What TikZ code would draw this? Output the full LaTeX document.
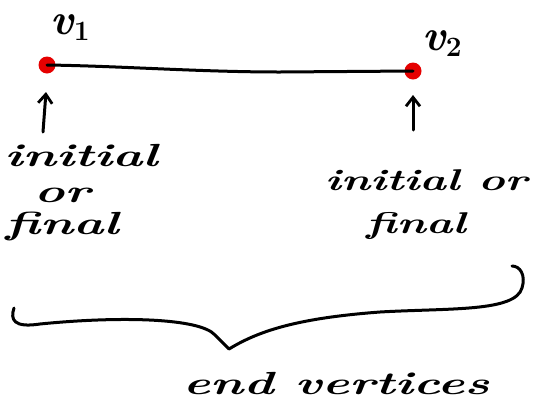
\documentclass[tikz,border=0pt]{standalone}
\usepackage{fontspec}
\usetikzlibrary{arrows.meta}
\newcommand\wide[1]{\scalebox{1.6}[1]{#1}}
\newcommand\widish[1]{\scalebox{1.5}[1]{#1}}
\tikzset{
  ink/.style={line width=3pt, line cap=round, line join=round},
  vertexdot/.style={circle, fill=red!90!black, minimum size=17pt, inner sep=0pt},
  hand/.style={font=\fontsize{32}{36}\selectfont\bfseries\itshape, inner sep=0pt, align=center},
  smallhand/.style={font=\fontsize{30}{34}\selectfont\bfseries\itshape, inner sep=0pt, align=center},
  vlabel/.style={font=\fontsize{44}{48}\selectfont\bfseries\itshape, inner sep=0pt},
  pointer/.style={ink, -{Straight Barb[length=9pt,width=14pt,line width=2.8pt]}}
}
\newcommand\vsub[1]{\raisebox{-6pt}{\fontsize{28}{30}\selectfont\upshape #1}}
\begin{document}
\begin{tikzpicture}[x=1pt,y=-1pt]
  \useasboundingbox (0,0) rectangle (549,405);
  % the edge and its two vertices
  \node[vertexdot] (v1) at (47,65) {};
  \node[vertexdot] (v2) at (413,71) {};
  \draw[ink] (v1.center) .. controls (120,66) and (200,72) .. (280,72) -- (v2.center);
  \node[vlabel] (l1) at (70,28) {v\vsub{1}};
  \node[vlabel] (l2) at (442,44) {v\vsub{2}};
  % pointers to the vertices
  \coordinate (a1) at (43,132);
  \coordinate (h1) at (46,92);
  \coordinate (a2) at (413,130);
  \coordinate (h2) at (413,95);
  \draw[pointer] (a1) -- (h1);
  \draw[pointer] (a2) -- (h2);
  % labels below the pointers
  \node[hand] (t1) at (81,156) {\wide{initial}};
  \node[hand] (t2) at (62,195) {\wide{or}};
  \node[hand] (t3) at (62,226) {\wide{final}};
  \node[smallhand] (t4) at (426,180) {\widish{initial or}};
  \node[smallhand] (t5) at (416,226) {\widish{final}};
  % the brace gathering both ends
  \coordinate (bl) at (14,308);
  \coordinate (tip) at (229,349);
  \coordinate (br) at (512,266);
  \draw[ink] (bl) .. controls (10,320) and (14,328) .. (40,324)
     .. controls (120,316) and (200,318) .. (215,335)
     .. controls (220,340) and (225,345) .. (tip)
     .. controls (260,330) and (300,318) .. (380,312)
     .. controls (450,308) and (515,312) .. (522,288)
     .. controls (526,275) and (520,266) .. (br);
  \node[hand] (t6) at (336,384) {\wide{end vertices}};
\end{tikzpicture}
\end{document}
